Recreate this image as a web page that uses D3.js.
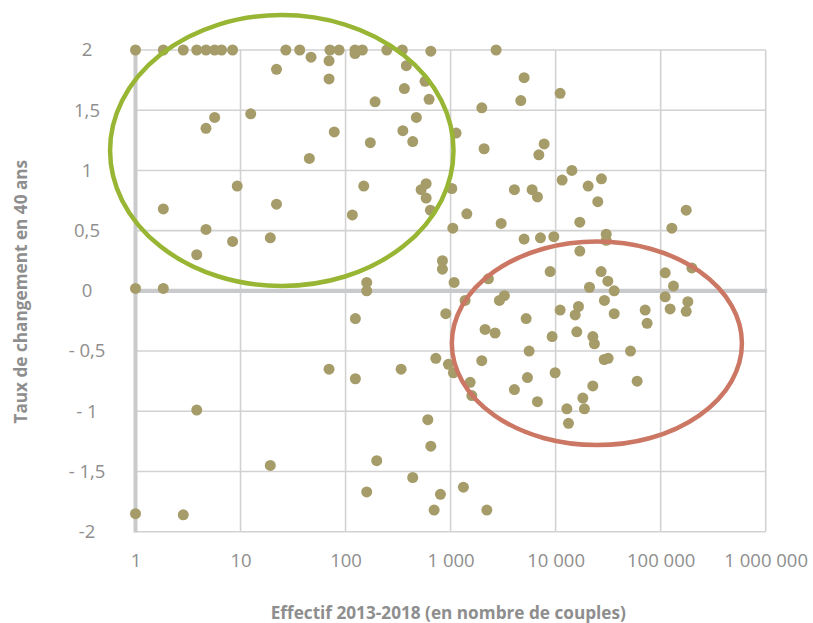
<!DOCTYPE html>
<html>
<head>
<meta charset="utf-8">
<script src="https://cdn.jsdelivr.net/npm/d3@7"></script>
<style>
    body { margin: 0; background: #fff; }
    text { font-family: "Open Sans", sans-serif; fill: #8e8e8e; }
</style>
</head>
<body>
<div id="svg-area"></div>
<script>
// effectif 2013-2018 (couples) and taux de changement
const effectif = [
    1, 1.84, 2.85, 3.83, 4.69, 5.67, 6.6, 8.4, 27, 36.6, 71, 86.7, 123, 144.5, 247, 347, 648, 2713, 123,
    22, 5.67, 4.69, 12.5, 9.3, 1.84, 22, 4.69, 8.4, 19.2, 3.83, 1, 1.84, 3.83, 19.2, 1, 2.85,
    46.9, 69.6, 69.6, 379, 363, 571, 624, 191, 472, 78, 351, 436, 172, 45.2, 149, 585, 524, 585, 642, 116,
    1026, 1050, 836, 836, 159, 159, 1080,
    5010, 4660, 11040, 1983, 1128, 2084, 7770, 6920, 14270, 11530, 20400, 27300, 25200, 4050, 5970, 6710,
    1427, 3030, 16980, 5010, 7170, 9610, 30300, 30300, 17000, 8870, 27100, 31400, 36100, 21000, 2290,
    175000, 127800, 110400, 198000, 132400, 110400, 181500, 123000, 175000, 71200, 74300, 51600, 59700,
    3250, 2915, 1374, 29150, 11040, 16500, 15350, 36100, 5240, 2130, 2650, 9260, 15900, 22600, 23400, 5590,
    29000, 31600, 1980, 1535, 1592, 5390, 9890, 4050, 6710, 22600, 18150, 18800, 12790, 13250, 1324, 2213,
    124, 900, 69.6, 124, 338, 723, 953, 1064, 607, 648, 198, 436, 159, 800, 697
]

const taux = [
    2, 2, 2, 2, 2, 2, 2, 2, 2, 2, 2, 2, 2, 2, 2, 2, 1.99, 2, 1.97,
    1.84, 1.44, 1.35, 1.47, 0.87, 0.68, 0.72, 0.51, 0.41, 0.44, 0.30, 0.02, 0.02, -0.99, -1.45, -1.85, -1.86,
    1.94, 1.91, 1.76, 1.87, 1.68, 1.74, 1.59, 1.57, 1.44, 1.32, 1.33, 1.24, 1.23, 1.10, 0.87, 0.89, 0.84, 0.77, 0.67, 0.63,
    0.85, 0.52, 0.25, 0.18, 0.07, 0.00, 0.07,
    1.77, 1.58, 1.64, 1.52, 1.31, 1.18, 1.22, 1.13, 1.00, 0.92, 0.87, 0.93, 0.74, 0.84, 0.84, 0.78,
    0.64, 0.56, 0.57, 0.43, 0.44, 0.45, 0.47, 0.42, 0.33, 0.16, 0.16, 0.08, 0.00, 0.03, 0.10,
    0.67, 0.52, 0.15, 0.19, 0.04, -0.05, -0.09, -0.15, -0.17, -0.16, -0.27, -0.50, -0.75,
    -0.04, -0.08, -0.08, -0.08, -0.16, -0.13, -0.20, -0.19, -0.23, -0.32, -0.35, -0.38, -0.34, -0.38, -0.44, -0.50,
    -0.57, -0.56, -0.58, -0.76, -0.87, -0.72, -0.68, -0.82, -0.92, -0.79, -0.89, -0.98, -0.98, -1.10, -1.63, -1.82,
    -0.23, -0.19, -0.65, -0.73, -0.65, -0.56, -0.61, -0.68, -1.07, -1.29, -1.41, -1.55, -1.67, -1.69, -1.82
]

const xTicks = [1, 10, 100, 1000, 10000, 100000, 1000000]
const xTickLabels = ["1", "10", "100", "1 000", "10 000", "100 000", "1 000 000"]
const yTicks = [2, 1.5, 1, 0.5, 0, -0.5, -1, -1.5, -2]
const yTickLabels = ["2", "1,5", "1", "0,5", "0", "- 0,5", "- 1", "- 1,5", "-2"]

// circled groups: centre (effectif, taux), half-width in decades, half-height in taux
const zoneCentreX = [24.7, 24700]
const zoneCentreY = [1.165, -0.436]
const zoneDecades = [1.635, 1.381]
const zoneSpread = [1.125, 0.845]
const zoneColors = ["#98b634", "#cb7764"]

const margin = { left: 135.5, right: 47.3, top: 50, bottom: 91.3 }
const width = 813 - margin.left - margin.right,
    height = 623 - margin.top - margin.bottom

const svg = d3.select("#svg-area").append("svg")
        .attr("width", 813)
        .attr("height", 623)
        .append("g")
        .attr("transform", "translate(" + margin.left + ", " + margin.top + ")")

const x = d3.scaleLog().domain([1, 1000000]).range([0, width])
const y = d3.scaleLinear().domain([-2, 2]).range([height, 0])

// grid
svg.selectAll(".vgrid")
        .data(xTicks.slice(1))
        .enter()
        .append("line")
        .attr("x1", d => x(d)).attr("x2", d => x(d))
        .attr("y1", 0).attr("y2", height)
        .attr("stroke", "#d2d2d2")
        .attr("stroke-width", 1.6)

svg.selectAll(".hgrid")
        .data(yTicks.filter(d => d !== 0))
        .enter()
        .append("line")
        .attr("x1", 0).attr("x2", width)
        .attr("y1", d => y(d)).attr("y2", d => y(d))
        .attr("stroke", "#d2d2d2")
        .attr("stroke-width", 1.6)

// main axes
svg.append("line")
        .attr("x1", x(1)).attr("x2", x(1))
        .attr("y1", -0.8).attr("y2", height + 0.8)
        .attr("stroke", "#c9cacb")
        .attr("stroke-width", 4)

svg.append("line")
        .attr("x1", x(1) - 2).attr("x2", width + 1.5)
        .attr("y1", y(0)).attr("y2", y(0))
        .attr("stroke", "#c9cacb")
        .attr("stroke-width", 4.2)

// tick labels
const xAxis = svg.append("g")
        .attr("transform", "translate(0," + height + ")")
        .call(d3.axisBottom(x).tickValues(xTicks).tickFormat((d, i) => xTickLabels[i]).tickSize(0).tickPadding(22))
xAxis.select(".domain").remove()
xAxis.selectAll("text")
        .style("font-size", "18.5px")
        .attr("fill", "#8e8e8e")

const yAxis = svg.append("g")
        .call(d3.axisLeft(y).tickValues(yTicks).tickFormat((d, i) => yTickLabels[i]).tickSize(0))
yAxis.select(".domain").remove()
yAxis.selectAll("text")
        .attr("x", 87 - margin.left)
        .attr("text-anchor", "middle")
        .style("font-size", "18.5px")
        .attr("fill", "#8e8e8e")

// points
const points = effectif.map((d, i) => ({ effectif: d, taux: taux[i] }))
svg.selectAll("circle")
        .data(points)
        .enter()
        .append("circle")
        .attr("r", 5.5)
        .attr("cx", d => x(d.effectif))
        .attr("cy", d => y(d.taux))
        .attr("fill", "#a59c6a")

// zones
const decade = x(10) - x(1)
svg.selectAll("ellipse")
        .data(zoneCentreX)
        .enter()
        .append("ellipse")
        .attr("cx", d => x(d))
        .attr("cy", (d, i) => y(zoneCentreY[i]))
        .attr("rx", (d, i) => zoneDecades[i] * decade)
        .attr("ry", (d, i) => y(0) - y(zoneSpread[i]))
        .attr("fill", "none")
        .attr("stroke", (d, i) => zoneColors[i])
        .attr("stroke-width", 4.5)

// axis titles
svg.append("text")
        .attr("x", 448.3 - margin.left)
        .attr("y", 619 - margin.top)
        .attr("text-anchor", "middle")
        .style("font-size", "17.2px")
        .style("font-weight", "bold")
        .text("Effectif 2013-2018 (en nombre de couples)")

svg.append("text")
        .attr("transform", "translate(" + (26.5 - margin.left) + "," + (291.7 - margin.top) + ") rotate(-90)")
        .attr("text-anchor", "middle")
        .style("font-size", "17.2px")
        .style("font-weight", "bold")
        .text("Taux de changement en 40 ans")
</script>
</body>
</html>
